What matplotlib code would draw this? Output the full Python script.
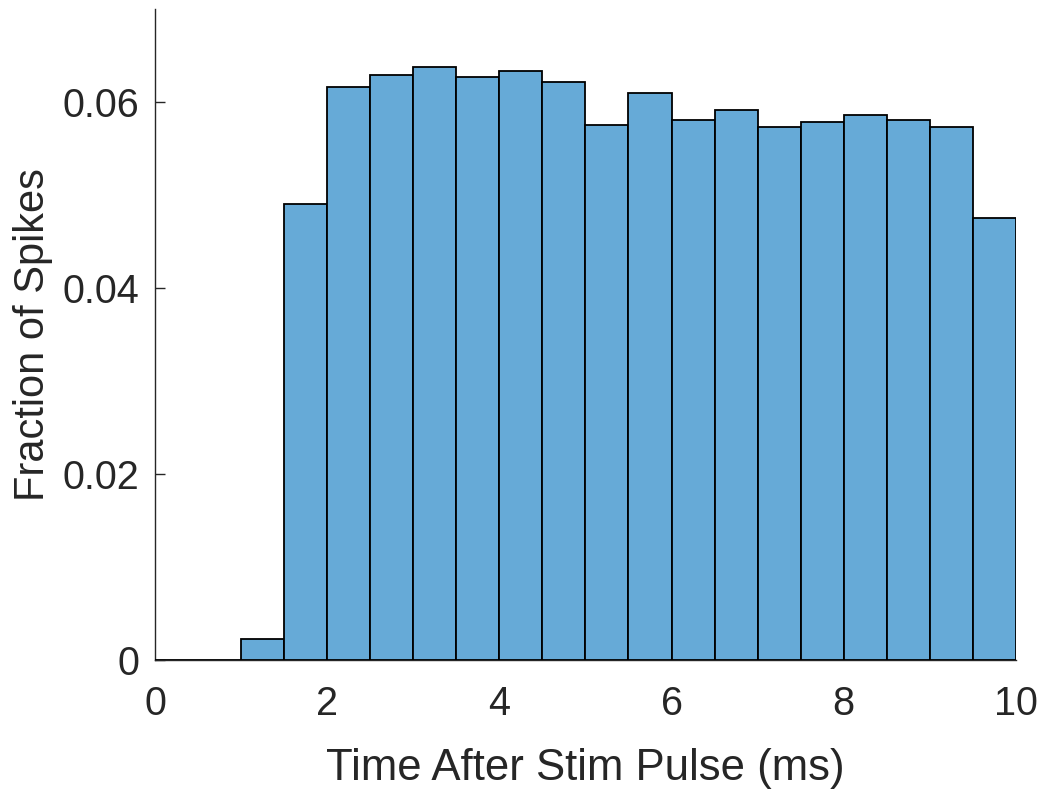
import matplotlib
matplotlib.use("Agg")
import matplotlib.pyplot as plt
import numpy as np

bin_edges = [0.0, 0.5, 1.0, 1.5, 2.0, 2.5, 3.0, 3.5, 4.0, 4.5, 5.0,
             5.5, 6.0, 6.5, 7.0, 7.5, 8.0, 8.5, 9.0, 9.5, 10.0]
fractions = [0.0, 0.0, 0.0023, 0.0490, 0.0616, 0.0629, 0.0638, 0.0627, 0.0633, 0.0622,
             0.0575, 0.0610, 0.0581, 0.0592, 0.0573, 0.0579, 0.0586, 0.0581, 0.0573, 0.0475]
xticks = [0, 2, 4, 6, 8, 10]
yticks = [0, 0.02, 0.04, 0.06]
ytick_labels = ["0", "0.02", "0.04", "0.06"]

plt.rcParams['font.family'] = ['Liberation Sans', 'DejaVu Sans']
axcol = (0.15, 0.15, 0.15)

fig = plt.figure(figsize=(10.43, 7.89), dpi=100)
ax = fig.add_axes([0.1486, 0.1629, 0.974 - 0.1486, 0.9886 - 0.1629])

edges = np.array(bin_edges)
ax.bar(edges[:-1], fractions, width=np.diff(edges), align='edge',
       color=(0.4, 0.668, 0.845), edgecolor='black', linewidth=1.3, zorder=3)

ax.set_xlim(0, 10)
ax.set_ylim(0, 0.07)
ax.set_xticks(xticks)
ax.set_xticklabels([str(t) for t in xticks])
ax.set_yticks(yticks)
ax.set_yticklabels(ytick_labels)

for s in ['top', 'right']:
    ax.spines[s].set_visible(False)
for s in ['left', 'bottom']:
    ax.spines[s].set_color(axcol)
    ax.spines[s].set_linewidth(1.0)

ax.tick_params(direction='in', length=7, width=1.0, colors=axcol,
               labelsize=28.5, labelcolor=axcol)
ax.tick_params(axis='x', pad=18, length=0)
ax.tick_params(axis='y', pad=11)
ax.set_xlabel('Time After Stim Pulse (ms)', fontsize=31.5, color=axcol, labelpad=18)
ax.set_ylabel('Fraction of Spikes', fontsize=30, color=axcol, labelpad=7)

fig.savefig('out.png', dpi=100)
